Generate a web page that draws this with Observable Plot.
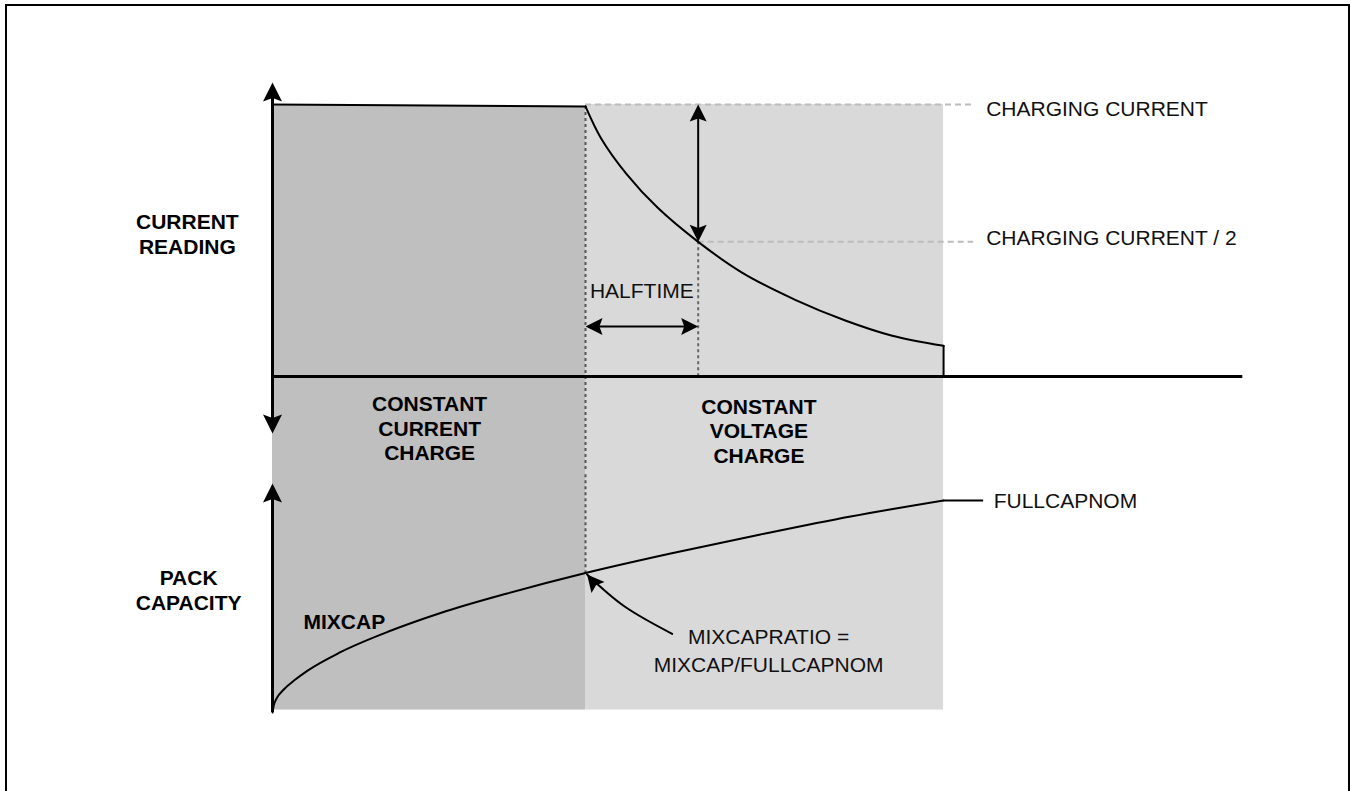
<!DOCTYPE html>
<html><head><meta charset="utf-8">
<script src="https://cdn.jsdelivr.net/npm/d3@7"></script>
<script src="https://cdn.jsdelivr.net/npm/@observablehq/plot@0.6"></script>
<style>
html,body{margin:0;padding:0;width:1351px;height:791px;overflow:hidden;background:#fff;}
#wrap{position:relative;width:1351px;height:791px;overflow:hidden;}
#frame{position:absolute;left:5px;top:4px;width:1345px;height:800px;border:2px solid #000;box-sizing:border-box;pointer-events:none;}
#wrap svg{display:block;overflow:hidden;}
</style></head><body>
<div id="wrap"><div id="upper"></div><div id="lower"></div><div id="frame"></div></div>
<script>
// ---- data (time in minutes, current in mA, capacity in mAh) ----
const ccTime = [0, 100];
const ccCurrent = [1000, 993];
const cvTime = [100, 105, 113, 123, 136, 150, 167, 183, 198, 214.4];
const cvCurrent = [993, 875, 746, 621, 495, 382, 282, 206, 150, 113];
const capTime = [0, 0.4, 1.3, 3.6, 7.3, 11.1, 21.7, 37.7, 53.7, 75, 100, 127.2, 155.9, 184.7, 214.4];
const capValue = [0, 66, 132, 217, 311, 393, 569, 771, 939, 1123, 1316, 1500, 1679, 1849, 2000];
const phaseBounds = [0, 100, 214.4];          // CC start, CC->CV switch, end of charge
const chargingCurrent = 1000;
const halfCurrent = 495;
const halfTime = 136;
const fullCapNom = 2000;
const mixCap = 1316;
const timeAxisEnd = 310;
const currentAxisExtent = [1081, -210];
const capAxisExtent = [2160, 0];
const topBackdrop = -360;      // current value at bottom edge of upper panel
const capBackdrop = [23, 2300];
const halftimeArrowLevel = 184;
const leaderEnd = 224;
const labelTime = 228;
const fullCapLeader = [214.4, 227.2];
const fullCapLabelTime = 230.4;
const ratioArrowTime = [127.7, 112.5, 100.5];
const ratioArrowCap = [742, 1000, 1302];

const currentLabels = ["CHARGING CURRENT", "CHARGING CURRENT / 2"];
const axisTitles = ["CURRENT\nREADING", "PACK\nCAPACITY"];
const phaseLabels = ["CONSTANT\nCURRENT\nCHARGE", "CONSTANT\nVOLTAGE\nCHARGE"];

const FONT = "'Liberation Sans', Arial, Helvetica, sans-serif";
const DARK = "#bfbfbf", LIGHT = "#d9d9d9";

// filled arrowhead with its tip at the anchor point
function head(angle, len, half) {
  const a = angle * Math.PI / 180, c = Math.cos(a), s = Math.sin(a);
  const notch = len * 0.18;
  const pts = [[0,0],[half,len],[0,len-notch],[-half,len]].map(([x,y]) => [x*c - y*s, x*s + y*c]);
  return {draw(ctx) {
    ctx.moveTo(pts[0][0], pts[0][1]);
    for (let i = 1; i < pts.length; i++) ctx.lineTo(pts[i][0], pts[i][1]);
    ctx.closePath();
  }};
}
const AX_UP = head(0, 19, 9.5), AX_DOWN = head(180, 19, 9.5);
const UP = head(0, 17, 8.5), DOWN = head(180, 17, 8.5), LEFT = head(-90, 17, 8.5), RIGHT = head(90, 17, 8.5);
const UPLEFT = head(-40, 17, 8.5);

const ccData = ccTime.map((t, i) => ({t, I: ccCurrent[i]}));
const cvData = cvTime.map((t, i) => ({t, I: cvCurrent[i]}));
const capData = capTime.map((t, i) => ({t, c: capValue[i]}));
const ratioArrow = ratioArrowTime.map((t, i) => ({t, c: ratioArrowCap[i]}));

const xScale = {domain: [0, 100], range: [272, 585], axis: null};
const headMark = (x, y, symbol) => Plot.dot([0], {x, y, symbol, r: 8, fill: "#000", stroke: "none"});

const upperPlot = Plot.plot({
  width: 1351, height: 472, margin: 0,
  x: xScale,
  y: {domain: [0, 1000], range: [376, 104], axis: null},
  style: {fontFamily: FONT, overflow: "hidden", background: "transparent"},
  marks: [
    Plot.areaY(ccData, {x: "t", y1: topBackdrop, y2: "I", fill: DARK}),
    Plot.rect([0], {x1: phaseBounds[1], x2: phaseBounds[2], y1: topBackdrop, y2: chargingCurrent, fill: LIGHT}),
    Plot.ruleY([chargingCurrent], {x1: phaseBounds[1], x2: leaderEnd, stroke: "#bcbcbc", strokeWidth: 2, strokeDasharray: "6,4"}),
    Plot.ruleY([halfCurrent], {x1: halfTime, x2: leaderEnd, stroke: "#bcbcbc", strokeWidth: 2, strokeDasharray: "6,4"}),
    Plot.ruleX([phaseBounds[1]], {y1: ccCurrent[1], y2: topBackdrop, stroke: "#555", strokeWidth: 2, strokeDasharray: "3,3"}),
    Plot.ruleX([halfTime], {y1: halfCurrent, y2: 0, stroke: "#666", strokeWidth: 2, strokeDasharray: "3,3"}),
    Plot.line(ccData, {x: "t", y: "I", stroke: "#000", strokeWidth: 2}),
    Plot.line(cvData, {x: "t", y: "I", stroke: "#000", strokeWidth: 2, curve: "catmull-rom"}),
    Plot.ruleX([phaseBounds[2]], {y1: cvCurrent[cvCurrent.length - 1], y2: 0, stroke: "#000", strokeWidth: 2}),
    Plot.ruleY([0], {x1: 0, x2: timeAxisEnd, stroke: "#000", strokeWidth: 3}),
    Plot.ruleX([0], {y1: currentAxisExtent[0], y2: currentAxisExtent[1], stroke: "#000", strokeWidth: 3, insetTop: 14, insetBottom: 14}),
    headMark(0, currentAxisExtent[0], AX_UP),
    headMark(0, currentAxisExtent[1], AX_DOWN),
    Plot.ruleX([halfTime], {y1: chargingCurrent, y2: halfCurrent, stroke: "#000", strokeWidth: 2, insetTop: 12, insetBottom: 12}),
    headMark(halfTime, chargingCurrent, UP),
    headMark(halfTime, halfCurrent, DOWN),
    Plot.ruleY([halftimeArrowLevel], {x1: phaseBounds[1], x2: halfTime, stroke: "#000", strokeWidth: 2, insetLeft: 12, insetRight: 12}),
    headMark(phaseBounds[1], halftimeArrowLevel, LEFT),
    headMark(halfTime, halftimeArrowLevel, RIGHT),
    Plot.text(["HALFTIME"], {x: 118, y: 312, text: d => d, fontSize: 21, fill: "#111"}),
    Plot.text([currentLabels[0]], {x: labelTime, y: chargingCurrent, dy: 5, text: d => d, textAnchor: "start", fontSize: 21, fill: "#111"}),
    Plot.text([currentLabels[1]], {x: labelTime, y: halfCurrent, dy: -4, text: d => d, textAnchor: "start", fontSize: 21, fill: "#111"}),
    Plot.text([axisTitles[0]], {x: -27.2, y: 524, text: d => d, fontSize: 21, fontWeight: "bold", lineHeight: 1.19, fill: "#000"}),
    Plot.text([phaseLabels[0]], {x: 50.2, y: -187.5, text: d => d, fontSize: 21, fontWeight: "bold", lineHeight: 1.19, fill: "#000"}),
    Plot.text([phaseLabels[1]], {x: 155.4, y: -198.5, text: d => d, fontSize: 21, fontWeight: "bold", lineHeight: 1.19, fill: "#000"})
  ]
});

const lowerPlot = Plot.plot({
  width: 1351, height: 319, margin: 0,
  x: xScale,
  y: {domain: [0, 2000], range: [240, 28], axis: null},
  style: {fontFamily: FONT, overflow: "hidden", background: "transparent"},
  marks: [
    Plot.rect([0], {x1: phaseBounds[0], x2: phaseBounds[1], y1: capBackdrop[0], y2: capBackdrop[1], fill: DARK}),
    Plot.rect([0], {x1: phaseBounds[1], x2: phaseBounds[2], y1: capBackdrop[0], y2: capBackdrop[1], fill: LIGHT}),
    Plot.ruleX([phaseBounds[1]], {y1: capBackdrop[1], y2: mixCap, stroke: "#555", strokeWidth: 2, strokeDasharray: "3,3"}),
    Plot.line(capData, {x: "t", y: "c", stroke: "#000", strokeWidth: 2, curve: "monotone-x"}),
    Plot.ruleY([fullCapNom], {x1: fullCapLeader[0], x2: fullCapLeader[1], stroke: "#000", strokeWidth: 2}),
    Plot.ruleX([0], {y1: capAxisExtent[0], y2: capAxisExtent[1], stroke: "#000", strokeWidth: 3, insetTop: 14}),
    headMark(0, capAxisExtent[0], AX_UP),
    Plot.line(ratioArrow, {x: "t", y: "c", stroke: "#000", strokeWidth: 2, curve: "natural"}),
    headMark(ratioArrowTime[ratioArrowTime.length - 1], ratioArrowCap[ratioArrowCap.length - 1], UPLEFT),
    Plot.text(["FULLCAPNOM"], {x: fullCapLabelTime, y: fullCapNom, dy: 1, text: d => d, textAnchor: "start", fontSize: 21, fill: "#111"}),
    Plot.text(["MIXCAP"], {x: 9.9, y: 849, text: d => d, textAnchor: "start", fontSize: 21, fontWeight: "bold", fill: "#000"}),
    Plot.text(["MIXCAPRATIO =\nMIXCAP/FULLCAPNOM"], {x: 158.5, y: 597, text: d => d, fontSize: 21, lineHeight: 1.31, fill: "#111"}),
    Plot.text([axisTitles[1]], {x: -26.8, y: 1156, text: d => d, fontSize: 21, fontWeight: "bold", lineHeight: 1.19, fill: "#000"})
  ]
});

document.getElementById("upper").appendChild(upperPlot);
document.getElementById("lower").appendChild(lowerPlot);
</script>
</body></html>
